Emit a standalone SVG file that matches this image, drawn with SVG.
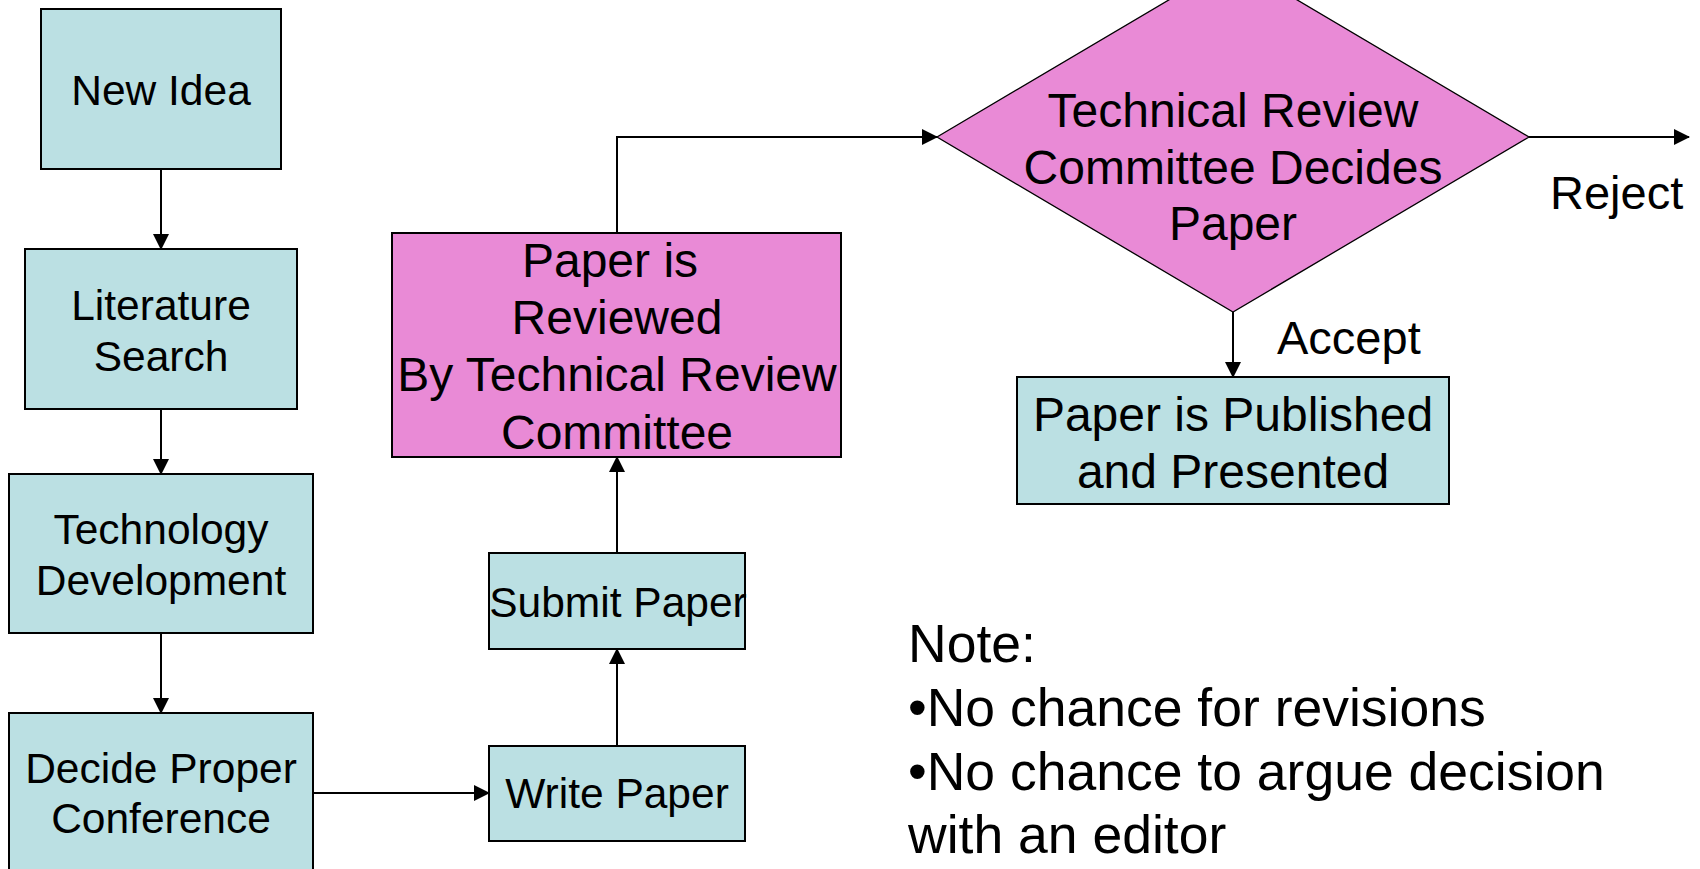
<svg xmlns="http://www.w3.org/2000/svg" width="1700" height="869" viewBox="0 0 1700 869">
<defs>
<marker id="arr" markerUnits="userSpaceOnUse" markerWidth="16" markerHeight="16" viewBox="0 0 16 16" refX="15" refY="8" orient="auto">
<path d="M0,0 L16,8 L0,16 Z" fill="#000"/>
</marker>
<style>
.box{fill:#BBE0E3;stroke:#000;stroke-width:2}
.pink{fill:#E98AD6;stroke:#000;stroke-width:2}
.dia{fill:#E98AD6;stroke:#000;stroke-width:1.3}
.t{font-family:"Liberation Sans",Arial,sans-serif;fill:#000;text-anchor:middle}
.s42{font-size:42.5px}
.s45{font-size:48px}
.s47{font-size:48px}
.note{font-family:"Liberation Sans",Arial,sans-serif;font-size:53.5px;fill:#000}
.lbl{font-family:"Liberation Sans",Arial,sans-serif;font-size:47px;fill:#000}
.c{fill:none;stroke:#000;stroke-width:2;marker-end:url(#arr)}
</style>
</defs>
<rect width="1700" height="869" fill="#fff"/>
<g id="connectors">
<line class="c" x1="161" y1="169" x2="161" y2="249"/>
<line class="c" x1="161" y1="409" x2="161" y2="474"/>
<line class="c" x1="161" y1="633" x2="161" y2="713"/>
<line class="c" x1="313" y1="793" x2="489" y2="793"/>
<line class="c" x1="617" y1="746" x2="617" y2="649"/>
<line class="c" x1="617" y1="553" x2="617" y2="457"/>
<polyline class="c" points="617,233 617,137 937,137"/>
<line class="c" x1="1529" y1="137" x2="1689" y2="137"/>
<line class="c" x1="1233" y1="312" x2="1233" y2="377"/>
</g>
<g id="new-idea">
<rect class="box" x="41" y="9" width="240" height="160"/>
<text class="t s42" x="161" y="105">New Idea</text>
</g>
<g id="literature-search">
<rect class="box" x="25" y="249" width="272" height="160"/>
<text class="t s42" x="161" y="320">Literature</text>
<text class="t s42" x="161" y="371">Search</text>
</g>
<g id="technology-development">
<rect class="box" x="9" y="474" width="304" height="159"/>
<text class="t s42" x="161" y="544">Technology</text>
<text class="t s42" x="161" y="595">Development</text>
</g>
<g id="decide-conference">
<rect class="box" x="9" y="713" width="304" height="170"/>
<text class="t s42" x="161" y="783">Decide Proper</text>
<text class="t s42" x="161" y="833">Conference</text>
</g>
<g id="write-paper">
<rect class="box" x="489" y="746" width="256" height="95"/>
<text class="t s42" x="617" y="808">Write Paper</text>
</g>
<g id="submit-paper">
<rect class="box" x="489" y="553" width="256" height="96"/>
<text class="t s42" x="618" y="617">Submit Paper</text>
</g>
<g id="paper-reviewed">
<rect class="pink" x="392" y="233" width="449" height="224"/>
<text class="t s47" x="610" y="277">Paper is</text>
<text class="t s47" x="617" y="334">Reviewed</text>
<text class="t s47" x="617" y="391">By Technical Review</text>
<text class="t s47" x="617" y="449">Committee</text>
</g>
<g id="committee-decides">
<polygon class="dia" points="937,137 1233,-38 1529,137 1233,312"/>
<text class="t s45" x="1233" y="127">Technical Review</text>
<text class="t s45" x="1233" y="184">Committee Decides</text>
<text class="t s45" x="1233" y="240">Paper</text>
</g>
<g id="published">
<rect class="box" x="1017" y="377" width="432" height="127"/>
<text class="t s47" x="1233" y="431">Paper is Published</text>
<text class="t s47" x="1233" y="488">and Presented</text>
</g>
<g id="labels">
<text class="lbl" x="1550" y="209">Reject</text>
<text class="lbl" x="1277" y="354">Accept</text>
</g>
<g id="note">
<text class="note" x="908" y="662">Note:</text>
<text class="note" x="908" y="726">•No chance for revisions</text>
<text class="note" x="908" y="790">•No chance to argue decision</text>
<text class="note" x="908" y="853">with an editor</text>
</g>
</svg>
